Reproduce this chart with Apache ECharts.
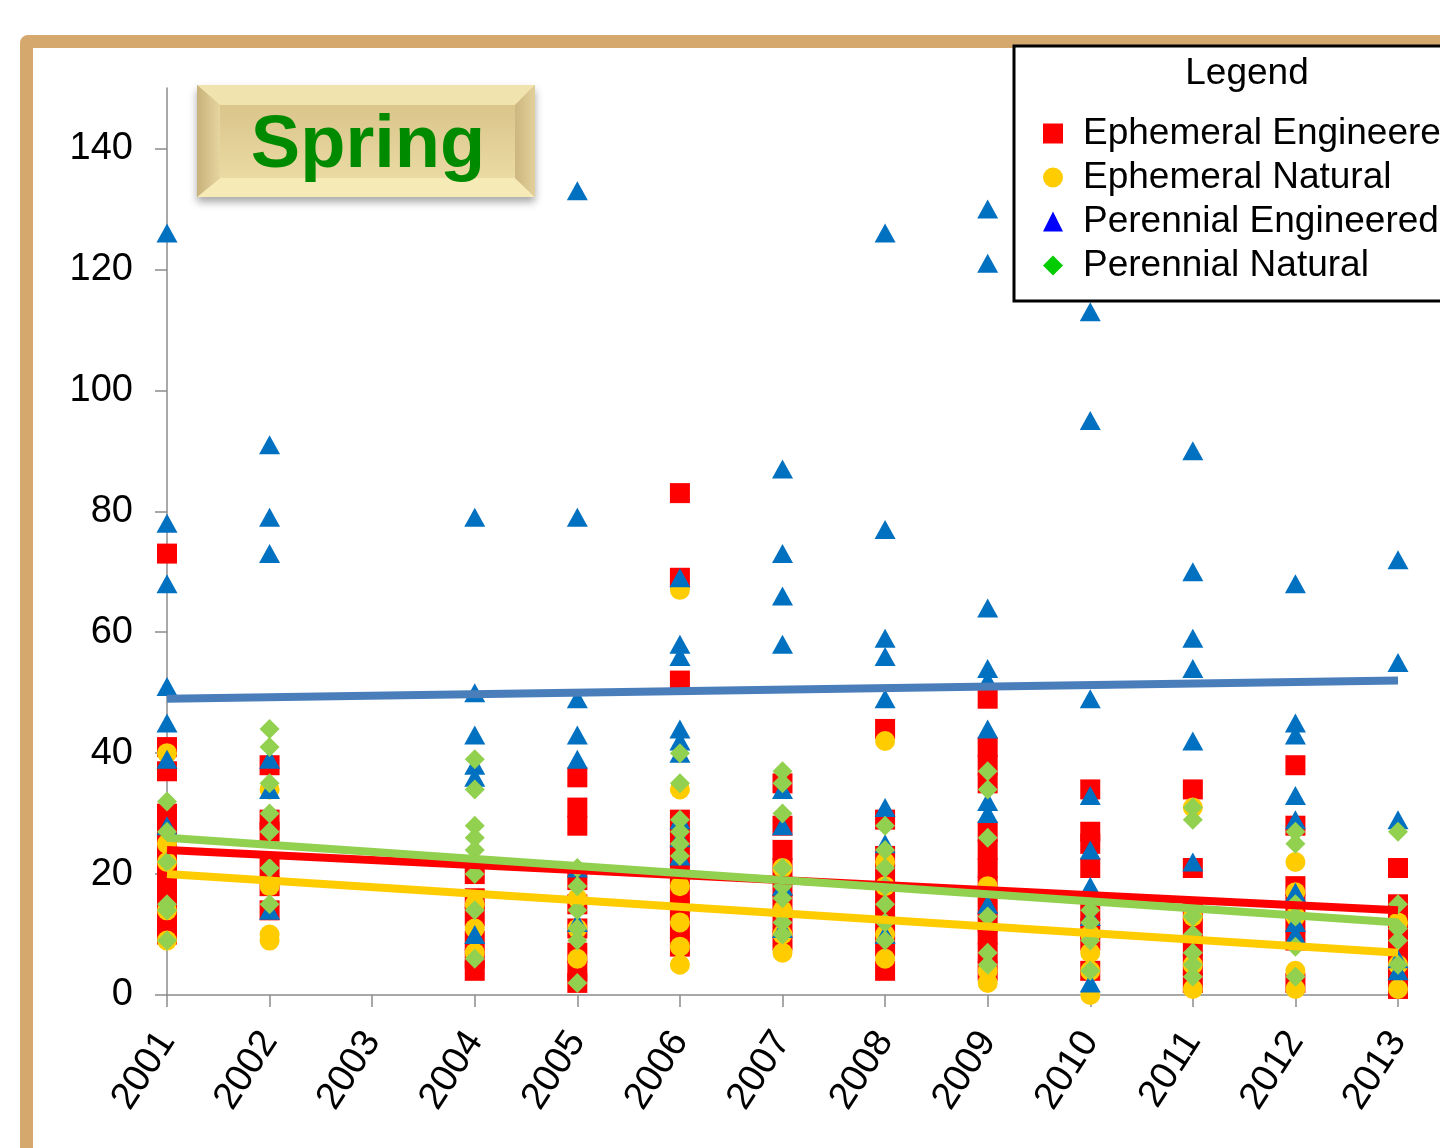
<!DOCTYPE html>
<html>
<head>
<meta charset="utf-8">
<title>Spring</title>
<script src="https://cdn.jsdelivr.net/npm/echarts@6/dist/echarts.min.js"></script>
<style>
  html, body {
    margin: 0;
    padding: 0;
    background: #fff;
    overflow: hidden;
  }
  #frame {
    position: absolute;
    left: 20px;
    top: 35px;
    width: 1500px;
    height: 1200px;
    border: 13px solid #d5a86e;
    border-radius: 8px;
    background: #fff;
  }
  #chart {
    position: absolute;
    left: 0;
    top: 0;
    width: 1440px;
    height: 1148px;
  }
</style>
</head>
<body>
<div id="frame"></div>
<div id="chart"></div>
<script>
  const years = [2001, 2002, 2004, 2005, 2006, 2007, 2008, 2009, 2010, 2011, 2012, 2013]
  const xTicks = [2001, 2002, 2003, 2004, 2005, 2006, 2007, 2008, 2009, 2010, 2011, 2012, 2013]
  const yTicks = [0, 20, 40, 60, 80, 100, 120, 140]

  // one list of values per year, same order as years
  const ephemeralEngineered = [
    [73, 41, 37, 30, 27, 24, 21, 19, 17, 14, 12, 10],
    [38, 29, 27, 21, 18, 14],
    [20, 16, 13, 9, 6, 4],
    [36, 31, 28, 19, 15, 11, 7, 4, 2],
    [83, 69, 52, 29, 26, 23, 20, 17, 14, 11, 8],
    [35, 28, 24, 21, 18, 15, 12, 9],
    [44, 29, 23, 20, 17, 14, 11, 8, 4],
    [49, 41, 38, 35, 27, 24, 21, 18, 15, 12, 10, 7, 4],
    [34, 27, 25, 21, 14, 11, 9, 4],
    [34, 21, 14, 11, 8, 5, 2],
    [38, 28, 18, 15, 12, 9, 2],
    [21, 15, 12, 9, 6, 3, 1]
  ]
  const ephemeralNatural = [
    [40, 25, 22, 14, 9],
    [34, 18, 10, 9],
    [15, 11, 7],
    [16, 11, 6],
    [67, 34, 18, 12, 8, 5],
    [21, 14, 10, 7],
    [42, 22, 18, 10, 6],
    [18, 4, 2],
    [10, 7, 4, 0],
    [31, 13, 5, 1],
    [22, 17, 13, 4, 1],
    [12, 5, 1]
  ]
  const perennialEngineered = [
    [126, 78, 68, 51, 45, 39, 28],
    [91, 79, 73, 39, 34, 14],
    [79, 50, 43, 38, 36, 10],
    [133, 79, 49, 43, 39, 21, 12],
    [69, 58, 56, 44, 42, 40, 29, 26, 23],
    [87, 73, 66, 58, 34, 28, 18, 11],
    [126, 77, 59, 56, 49, 31, 25, 10],
    [130, 121, 64, 54, 52, 44, 32, 30, 15],
    [113, 95, 49, 33, 24, 18, 13, 2],
    [90, 70, 59, 54, 42, 22],
    [68, 45, 43, 33, 29, 17, 12, 10],
    [72, 55, 29, 6, 4]
  ]
  const perennialNatural = [
    [32, 27, 22, 15, 14, 9],
    [44, 41, 35, 30, 27, 21, 15],
    [39, 34, 28, 26, 24, 20, 14, 6],
    [21, 18, 14, 11, 9, 2],
    [40, 35, 29, 27, 25, 23],
    [37, 35, 30, 21, 18, 16, 12, 10],
    [28, 24, 21, 18, 15, 12, 9],
    [37, 34, 26, 13, 7, 5],
    [14, 12, 9, 4],
    [31, 29, 13, 10, 7, 5, 3],
    [27, 25, 15, 13, 8, 3],
    [27, 15, 11, 9, 5]
  ]

  // trend line ends, read at 2001 and 2013
  const trendYears = [2001, 2013]
  const trendEphemeralEngineered = [24, 14]
  const trendEphemeralNatural = [20, 7]
  const trendPerennialEngineered = [49, 52]
  const trendPerennialNatural = [26, 12]

  const font = 'Liberation Sans, Arial, sans-serif'

  function points(list) {
    let out = []
    years.forEach((yr, i) => {
      list[i].forEach(v => out.push([yr, v]))
    })
    return out
  }
  function trend(vals) {
    return trendYears.map((yr, i) => [yr, vals[i]])
  }
  function scatter(name, data, symbol, size, color) {
    return {
      name: name,
      type: 'scatter',
      data: points(data),
      symbol: symbol,
      symbolSize: size,
      clip: false,
      itemStyle: {color: color, opacity: 1},
      emphasis: {disabled: true},
      z: 3
    }
  }
  function trendLine(name, vals, color) {
    return {
      name: name + ' trend',
      type: 'line',
      data: trend(vals),
      symbol: 'none',
      lineStyle: {color: color, width: 8},
      silent: true,
      z: 4
    }
  }

  const chart = echarts.init(document.getElementById('chart'), null, {renderer: 'canvas'})
  chart.setOption({
    animation: false,
    backgroundColor: 'transparent',
    grid: {
      left: 167,
      right: 42,
      top: 88,
      bottom: 153,
      containLabel: false,
      outerBoundsMode: 'none'
    },
    xAxis: {
      type: 'value',
      min: 2001,
      max: 2013,
      interval: 1,
      splitLine: {show: false},
      axisLine: {lineStyle: {color: '#8c8c8c', width: 1.5}},
      axisTick: {length: 12, lineStyle: {color: '#8c8c8c', width: 1.5}},
      axisLabel: {
        rotate: 57,
        margin: 40,
        fontSize: 38,
        fontFamily: font,
        color: '#000',
        formatter: v => xTicks.indexOf(v) >= 0 ? String(v) : ''
      }
    },
    yAxis: {
      type: 'value',
      min: 0,
      max: 150,
      interval: 20,
      splitLine: {show: false},
      axisLine: {show: true, lineStyle: {color: '#8c8c8c', width: 1.5}},
      axisTick: {show: true, length: 12, customValues: yTicks, lineStyle: {color: '#8c8c8c', width: 1.5}},
      axisLabel: {
        customValues: yTicks,
        margin: 34,
        fontSize: 38,
        fontFamily: font,
        color: '#000'
      }
    },
    legend: {
      left: 1038,
      top: 110,
      orient: 'vertical',
      itemWidth: 20,
      itemHeight: 20,
      itemGap: 7,
      selectedMode: false,
      z: 10,
      textStyle: {fontSize: 37, lineHeight: 37, fontFamily: font, color: '#000', padding: [0, 0, 0, 15]},
      data: [
        {name: 'Ephemeral Engineered', icon: 'rect', itemStyle: {color: '#ff0000'}},
        {name: 'Ephemeral Natural', icon: 'circle', itemStyle: {color: '#ffcc00'}},
        {name: 'Perennial Engineered', icon: 'triangle', itemStyle: {color: '#0000ff'}},
        {name: 'Perennial Natural', icon: 'diamond', itemStyle: {color: '#00cc00'}}
      ]
    },
    graphic: [
      {
        type: 'rect',
        z: 8,
        shape: {x: 1014, y: 46, width: 600, height: 255},
        style: {fill: '#fff', stroke: '#000', lineWidth: 3}
      },
      {
        type: 'text',
        z: 9,
        x: 1247,
        y: 74,
        style: {text: 'Legend', fontSize: 37, fontFamily: font, fill: '#000', align: 'center', verticalAlign: 'middle'}
      },
      {
        type: 'group',
        z: 9,
        children: [
          {
            type: 'rect',
            shape: {x: 197, y: 85, width: 338, height: 112},
            style: {fill: '#dcc78e', shadowBlur: 8, shadowOffsetY: 5, shadowColor: 'rgba(0,0,0,0.35)'}
          },
          {
            type: 'polygon',
            shape: {points: [[197, 85], [535, 85], [515, 105], [220, 105]]},
            style: {fill: '#f1e3ad'}
          },
          {
            type: 'polygon',
            shape: {points: [[197, 197], [535, 197], [515, 178], [220, 178]]},
            style: {fill: '#f6eab7'}
          },
          {
            type: 'polygon',
            shape: {points: [[197, 85], [220, 105], [220, 178], [197, 197]]},
            style: {fill: new echarts.graphic.LinearGradient(0, 0, 1, 0, [
              {offset: 0, color: '#c8b17b'}, {offset: 1, color: '#e6d59f'}
            ])}
          },
          {
            type: 'polygon',
            shape: {points: [[535, 85], [515, 105], [515, 178], [535, 197]]},
            style: {fill: new echarts.graphic.LinearGradient(0, 0, 1, 0, [
              {offset: 0, color: '#cdb680'}, {offset: 1, color: '#e2d09a'}
            ])}
          },
          {
            type: 'rect',
            shape: {x: 220, y: 105, width: 295, height: 73},
            style: {fill: new echarts.graphic.LinearGradient(0, 0, 0, 1, [
              {offset: 0, color: '#dac58b'}, {offset: 1, color: '#eadaa3'}
            ])}
          },
          {
            type: 'text',
            x: 368,
            y: 147,
            style: {text: 'Spring', fontSize: 74, fontWeight: 'bold', fontFamily: font, fill: '#008a00', align: 'center', verticalAlign: 'middle'}
          }
        ]
      }
    ],
    series: [
      scatter('Ephemeral Engineered', ephemeralEngineered, 'rect', 20, '#ff0000'),
      scatter('Ephemeral Natural', ephemeralNatural, 'circle', 20, '#ffcc00'),
      scatter('Perennial Engineered', perennialEngineered, 'triangle', [21, 19], '#0070c0'),
      scatter('Perennial Natural', perennialNatural, 'diamond', 20, '#92d050'),
      trendLine('Ephemeral Engineered', trendEphemeralEngineered, '#ff0000'),
      trendLine('Ephemeral Natural', trendEphemeralNatural, '#ffcc00'),
      trendLine('Perennial Engineered', trendPerennialEngineered, '#4a7ebb'),
      trendLine('Perennial Natural', trendPerennialNatural, '#92d050')
    ]
  })
</script>
</body>
</html>
